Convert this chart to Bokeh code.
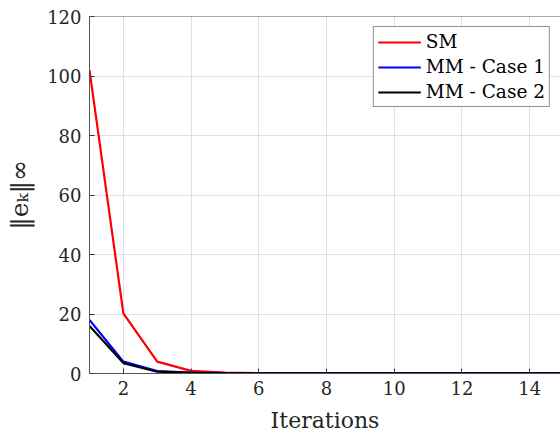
from bokeh.plotting import figure
from bokeh.models import Span, Legend, LegendItem, FixedTicker
from bokeh.embed import file_html
from bokeh.resources import INLINE

iterations = list(range(1, 16))
sm = [102.0, 20.2, 4.0, 0.9, 0.3, 0.15, 0.08, 0.05, 0.03, 0.02, 0.015, 0.01, 0.01, 0.01, 0.01]
mm_case1 = [18.0, 4.0, 0.8, 0.3, 0.12, 0.06, 0.03, 0.02, 0.015, 0.01, 0.01, 0.01, 0.01, 0.01, 0.01]
mm_case2 = [16.0, 3.5, 0.6, 0.2, 0.08, 0.04, 0.02, 0.015, 0.01, 0.01, 0.01, 0.01, 0.01, 0.01, 0.01]
x_ticks = [2, 4, 6, 8, 10, 12, 14]
y_ticks = [0, 20, 40, 60, 80, 100, 120]

FONT = "DejaVu Serif"

p = figure(width=560, height=436, output_backend="svg", toolbar_location=None,
           x_range=(1, 14.91), y_range=(0, 120),
           min_border_left=89, min_border_right=0, min_border_top=16, min_border_bottom=63)
p.outline_line_color = None
p.background_fill_color = "white"

r1 = p.line(iterations, sm, line_color="#ff0000", line_width=2.2)
r2 = p.line(iterations, mm_case1, line_color="#0000ff", line_width=2.2)
r3 = p.line(iterations, mm_case2, line_color="#000000", line_width=2.2)

p.add_layout(Span(location=120, dimension="width", line_color="#555555", line_width=1))

for ax in (p.xaxis[0], p.yaxis[0]):
    ax.axis_line_color = "#555555"
    ax.axis_line_width = 1
    ax.major_tick_in = 5
    ax.major_tick_out = 0
    ax.major_tick_line_color = "#333333"
    ax.minor_tick_line_color = None
    ax.major_label_text_font = FONT
    ax.major_label_text_font_size = "18px"
    ax.major_label_text_color = "#262626"
    ax.axis_label_text_font = FONT
    ax.axis_label_text_font_size = "22px"
    ax.axis_label_text_font_style = "normal"
    ax.axis_label_text_color = "#262626"

p.xaxis.ticker = FixedTicker(ticks=x_ticks)
p.yaxis.ticker = FixedTicker(ticks=y_ticks)
p.xaxis.axis_label = "Iterations"
p.yaxis.axis_label = "‖eₖ‖∞"
p.yaxis.axis_label_text_font_size = "25px"
p.xaxis.major_label_standoff = 7
p.yaxis.major_label_standoff = 8
p.xaxis.axis_label_standoff = 10
p.yaxis.axis_label_standoff = 10

p.xgrid.ticker = FixedTicker(ticks=x_ticks)
p.ygrid.ticker = FixedTicker(ticks=y_ticks)
p.grid.grid_line_color = "#e0e0e0"
p.grid.grid_line_width = 1

legend = Legend(items=[
    LegendItem(label="SM", renderers=[r1]),
    LegendItem(label="MM - Case 1", renderers=[r2]),
    LegendItem(label="MM - Case 2", renderers=[r3]),
], location="top_right")
legend.label_text_font = FONT
legend.label_text_font_size = "18.5px"
legend.label_text_color = "#000000"
legend.border_line_color = "#262626"
legend.border_line_width = 1
legend.background_fill_alpha = 1
legend.glyph_width = 43
legend.glyph_height = 20
legend.label_height = 20
legend.spacing = 4
legend.padding = 4
legend.margin = 10
legend.label_standoff = 5
p.add_layout(legend)

open("out.html", "w").write(file_html(p, INLINE))
